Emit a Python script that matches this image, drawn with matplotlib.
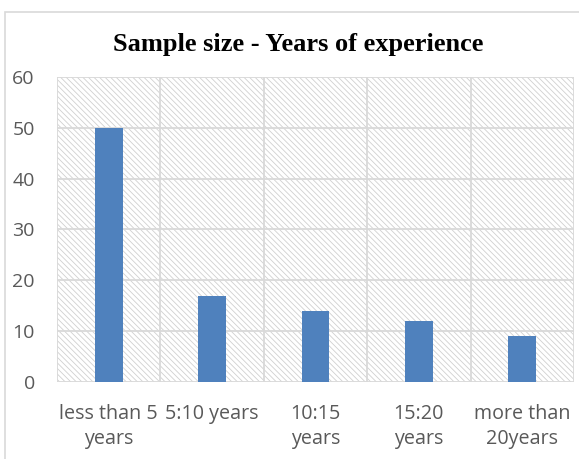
import matplotlib
matplotlib.use("Agg")
import matplotlib.pyplot as plt
from matplotlib.patches import Rectangle
import numpy as np

categories = ["less than 5\nyears", "5:10 years", "10:15\nyears", "15:20\nyears", "more than\n20years"]
values = [50, 17, 14, 12, 9]
yticks = [0, 10, 20, 30, 40, 50, 60]

plt.rcParams['hatch.linewidth'] = 0.6
plt.rcParams['hatch.color'] = '#d0d0d0'

fig = plt.figure(figsize=(5.79, 4.59), dpi=100)
# chart border
fig.add_artist(Rectangle((5/579, -0.1), 1.0, 1 - 12/459 + 0.1, transform=fig.transFigure,
                         fill=False, edgecolor='#d9d9d9', linewidth=1.2))

ax = fig.add_axes([57/579, 1 - 382/459, (574 - 57)/579, (382 - 77)/459])
n = len(categories)
x = np.arange(n)
ax.set_xlim(-0.5, n - 0.5)
ax.set_ylim(0, 60)

# hatched plot area background
ax.add_patch(Rectangle((0, 0), 1, 1, transform=ax.transAxes, facecolor='white',
                       edgecolor='#d0d0d0', hatch='\\' * 6, linewidth=0, zorder=0))

for yv in yticks:
    ax.axhline(yv, color='#d9d9d9', linewidth=1.3, zorder=1)
for b in np.arange(-0.5, n, 1.0):
    ax.axvline(b, color='#d9d9d9', linewidth=1.3, zorder=1)

ax.bar(x, values, width=0.27, color='#4f81bd', zorder=3)

for s in ax.spines.values():
    s.set_visible(False)

ax.set_yticks(yticks)
ax.set_yticklabels([str(v) for v in yticks], fontsize=14, color='#595959', family='Open Sans')
ax.set_xticks(x)
ax.set_xticklabels(categories, fontsize=14.2, color='#595959', family='Open Sans', linespacing=1.3)
ax.tick_params(axis='y', length=0, pad=16)
ax.tick_params(axis='x', length=0, pad=16)

fig.text(0.515, 1 - 45/459, "Sample size - Years of experience", ha='center', va='center',
         fontsize=19, fontweight='bold', family='Liberation Serif')

fig.savefig("out.png", dpi=100)
